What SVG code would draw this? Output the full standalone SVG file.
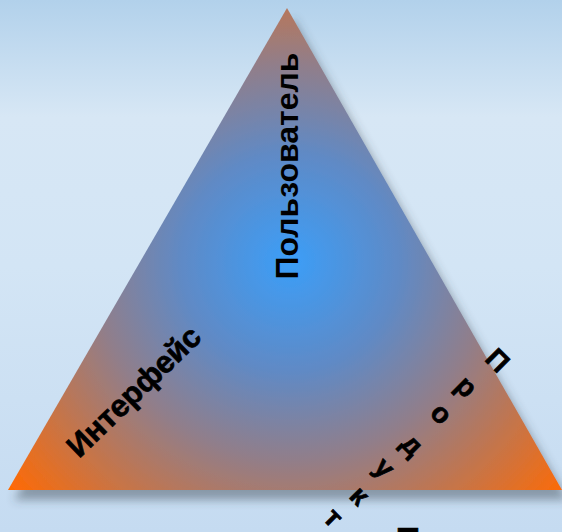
<svg xmlns="http://www.w3.org/2000/svg" width="562" height="532" viewBox="0 0 562 532">
  <defs>
    <linearGradient id="bg" x1="0" y1="0" x2="0" y2="1">
      <stop offset="0" stop-color="#b2d1eb"/>
      <stop offset="0.22" stop-color="#d7e7f5"/>
      <stop offset="0.5" stop-color="#d3e5f5"/>
      <stop offset="1" stop-color="#c5dbf1"/>
    </linearGradient>
    <radialGradient id="tri" gradientUnits="userSpaceOnUse" cx="290" cy="262" r="360">
      <stop offset="0" stop-color="#3b9ef8"/>
      <stop offset="0.3" stop-color="#5f8ac6"/>
      <stop offset="0.55" stop-color="#917e8a"/>
      <stop offset="0.78" stop-color="#c87446"/>
      <stop offset="1" stop-color="#ff6a04"/>
    </radialGradient>
    <filter id="shadow" x="-10%" y="-10%" width="130%" height="130%">
      <feDropShadow dx="6" dy="10" stdDeviation="5" flood-color="#3a4550" flood-opacity="0.45"/>
    </filter>
  </defs>
  <style>
    .lbl { font-family: "Liberation Sans", Arial, sans-serif; font-weight: bold; fill: #000; }
    .heavy { stroke: #000; stroke-width: 0.7; }
  </style>
  <rect x="0" y="0" width="562" height="532" fill="url(#bg)"/>
  <g id="triangle">
    <polygon points="287,8 8,490 562,490" fill="url(#tri)" filter="url(#shadow)"/>
  </g>
  <g id="user">
    <text class="lbl" font-size="32" transform="translate(298,166) rotate(-90)" text-anchor="middle">Пользователь</text>
  </g>
  <g id="interface">
    <text class="lbl heavy" font-size="31" transform="translate(79,459) rotate(-44)">Интерфейс</text>
  </g>
  <g id="product" class="lbl heavy" font-size="28" text-anchor="middle">
    <text transform="translate(498,360) rotate(45)" y="10">П</text>
    <text transform="translate(465,388) rotate(45)" y="7.3">р</text>
    <text transform="translate(440,415) rotate(45)" y="7.3">о</text>
    <text transform="translate(411,446) rotate(45)" y="7.3">д</text>
    <text transform="translate(383,469) rotate(45)" y="7.3">у</text>
    <text transform="translate(358,497) rotate(45)" y="7.3">к</text>
    <text transform="translate(332,519) rotate(45)" y="7.3">т</text>
    <text x="408" y="551" font-size="34">П</text>
  </g>
</svg>
